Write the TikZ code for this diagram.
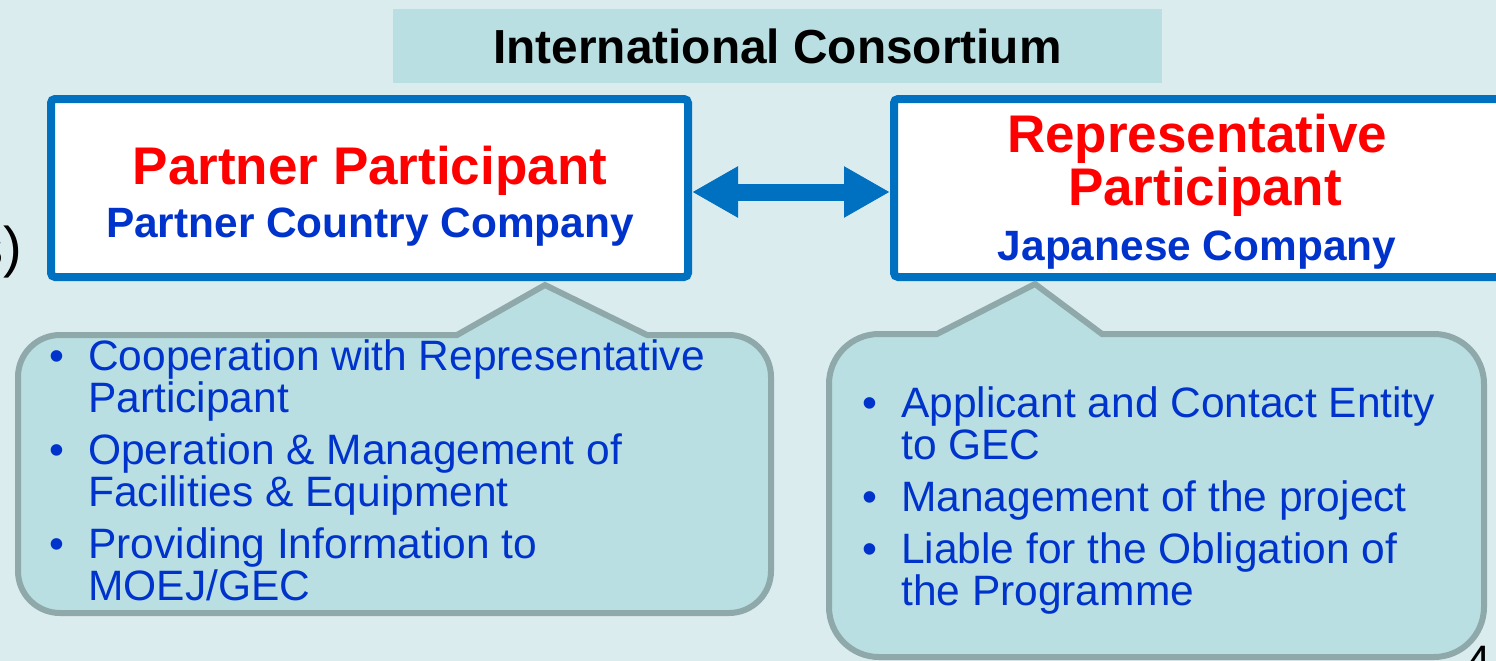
\documentclass[tikz,border=0pt]{standalone}
\usepackage{fontspec}
\setmainfont{Liberation Sans}
\usepackage{xcolor}
\usepackage{tikz}
\usetikzlibrary{arrows.meta}
\usetikzlibrary{shapes,positioning}
\definecolor{bgcolor}{HTML}{DBECEF}
\definecolor{tealfill}{HTML}{B9DFE2}
\definecolor{calloutgray}{HTML}{8FA9AA}
\definecolor{boxblue}{HTML}{0070C0}
\definecolor{textblue}{HTML}{0033CC}
\tikzset{>=latex}
\tikzset{title-box/.style={fill=tealfill, inner sep=0, minimum width=769pt, minimum height=74pt, font=\fontsize{47.8}{50}\selectfont\bfseries}}
\tikzset{party-box/.style={draw=boxblue, line width=8pt, fill=white, rounded corners=4pt, inner sep=0, minimum height=178pt}}
\tikzset{role-text/.style={text=red, inner sep=0, anchor=base, font=\fontsize{53}{56}\selectfont\bfseries}}
\tikzset{company-text/.style={text=textblue, inner sep=0, anchor=base, font=\fontsize{42.4}{46}\selectfont\bfseries}}
\tikzset{duty-text/.style={text=textblue, inner sep=0, anchor=base west, align=left, font=\fontsize{42.5}{42}\selectfont}}
\tikzset{duty-bullet/.style={text=textblue, inner sep=0, anchor=base, font=\fontsize{42.5}{42}\selectfont}}
\tikzset{callout-line/.style={draw=calloutgray, line width=6pt, fill=tealfill}}
\tikzset{link-arrow/.style={draw=boxblue, line width=17pt, {Triangle[width=48pt,length=46pt]}-{Triangle[width=48pt,length=46pt]}}}

\begin{document}
\begin{tikzpicture}[x=1pt, y=-1pt]
            \useasboundingbox (0,0) rectangle (1496,661);
            \fill[bgcolor] (0,0) rectangle (1496,661);

            % cut-off text at the edges
            \node[inner sep=0, anchor=base east, font=\fontsize{56}{60}\selectfont] (leftcut) at (22,266) {s)};
            \node[inner sep=0, anchor=north west, font=\fontsize{44}{48}\selectfont] (pagenum) at (1466,646) {4};

            \node[title-box] (consortium) at (777.5,46) {International Consortium};

            \node[party-box, minimum width=637pt] (partner) at (369.5,188) {};
            \node[party-box, minimum width=616pt] (representative) at (1202,188) {};

            \node[role-text] (partnerrole) at (370,184) {Partner Participant};
            \node[company-text] (partnercompany) at (370,237) {Partner Country Company};

            \node[role-text] (reprole1) at (1197,152) {Representative};
            \node[role-text] (reprole2) at (1205,205) {Participant};
            \node[company-text] (repcompany) at (1197,260) {Japanese Company};

            \draw[link-arrow] ([yshift=-4pt]partner.east) -- ([yshift=-4pt]representative.west);

            % callouts
            \draw[callout-line] (457,335) -- (545,285) -- (647,335) -- (729,335)
                arc[start angle=-90, end angle=0, radius=42] -- (771,571)
                arc[start angle=0, end angle=90, radius=42] -- (60,613)
                arc[start angle=90, end angle=180, radius=42] -- (18,377)
                arc[start angle=180, end angle=270, radius=42] -- cycle;
            \draw[callout-line] (937,334) -- (1035,284) -- (1102,334) -- (1434,334)
                arc[start angle=-90, end angle=0, radius=50] -- (1484,607)
                arc[start angle=0, end angle=90, radius=50] -- (879,657)
                arc[start angle=90, end angle=180, radius=50] -- (829,384)
                arc[start angle=180, end angle=270, radius=50] -- cycle;

            \node[duty-bullet] (lb1) at (57,370) {•};
            \node[duty-bullet] (lb2) at (57,464) {•};
            \node[duty-bullet] (lb3) at (57,558) {•};
            \node[duty-text] (lt1) at (88,412) {Cooperation with Representative\\Participant};
            \node[duty-text] (lt2) at (88,506) {Operation \& Management of\\Facilities \& Equipment};
            \node[duty-text] (lt3) at (88,600) {Providing Information to\\MOEJ/GEC};

            \node[duty-bullet] (rb1) at (870,417) {•};
            \node[duty-bullet] (rb2) at (870,511) {•};
            \node[duty-bullet] (rb3) at (870,563) {•};
            \node[duty-text] (rt1) at (901,459) {Applicant and Contact Entity\\to GEC};
            \node[duty-text] (rt2) at (901,511) {Management of the project};
            \node[duty-text] (rt3) at (901,605) {Liable for the Obligation of\\the Programme};

        \end{tikzpicture}
\end{document}
